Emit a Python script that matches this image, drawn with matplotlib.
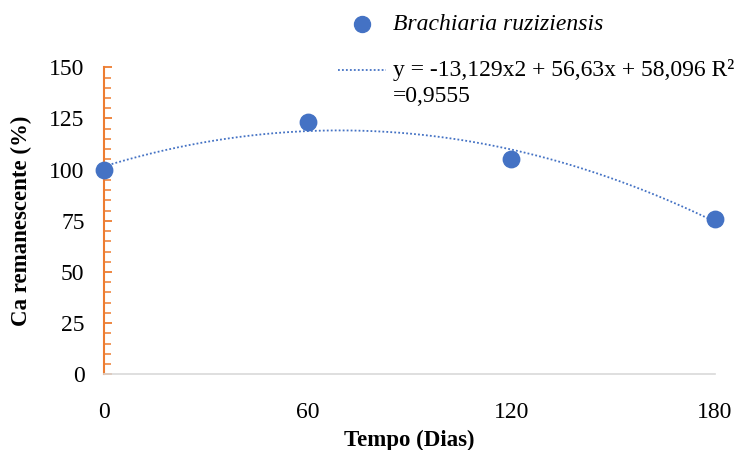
import numpy as np
import matplotlib
matplotlib.use("Agg")
import matplotlib.pyplot as plt
from matplotlib.lines import Line2D

# data
dias = [0, 60, 120, 180]
ca_rem = [100, 123.5, 105, 76]
x_ticks = [0, 60, 120, 180]
y_ticks = [0, 25, 50, 75, 100, 125, 150]
# trendline from the chart (x = period index 1..4)
coef = [-13.129, 56.63, 58.096]
serie_label = "Brachiaria ruziziensis"
trend_label = "y = -13,129x2 + 56,63x + 58,096 R²"
trend_label2 = "=0,9555"

plt.rcParams["font.family"] = ["Liberation Serif", "DejaVu Serif"]
azul = "#4472C4"
laranja = "#ED7D31"

fig = plt.figure(figsize=(7.43, 4.5), dpi=100)
ax = fig.add_axes([104 / 743, 75.7 / 450, (715 - 104) / 743, (374.3 - 67.3) / 450])

# trend curve
xs = np.linspace(0, 180, 200)
idx = xs / 60 + 1
ys = coef[0] * idx**2 + coef[1] * idx + coef[2]
ax.plot(xs, ys, ls=(0, (1, 1.2)), color=azul, lw=1.3, zorder=2)

ax.scatter(dias, ca_rem, s=140, color=azul, zorder=3, clip_on=False)

ax.set_xlim(0, 180)
ax.set_ylim(0, 150)
ax.set_xticks(x_ticks)
ax.set_yticks(y_ticks)
ax.set_yticks(np.arange(0, 151, 5), minor=True)

for s in ["top", "right"]:
    ax.spines[s].set_visible(False)
ax.spines["left"].set_color(laranja)
ax.spines["left"].set_linewidth(1.5)
ax.spines["bottom"].set_color("#D9D9D9")
ax.spines["bottom"].set_linewidth(1.2)

ax.tick_params(axis="y", which="major", direction="in", length=6, width=1.3,
               color=laranja, labelsize=17, pad=14)
ax.tick_params(axis="y", which="minor", direction="in", length=5, width=1.1,
               color=laranja)
ax.tick_params(axis="x", length=0, labelsize=17, pad=20)

ax.set_ylabel("Ca remanescente (%)", fontsize=16.5, fontweight="bold", labelpad=12)
ax.set_xlabel("Tempo (Dias)", fontsize=16.5, fontweight="bold", labelpad=5)

# legend drawn by hand (wrapped text like the original)
fig.add_artist(Line2D([362 / 743], [1 - 24 / 450], marker="o", markersize=11.5,
                      color=azul, ls="none", transform=fig.transFigure))
fig.text(393 / 743, 1 - 24 / 450, serie_label, fontsize=17, style="italic",
         va="center", ha="left")
fig.add_artist(Line2D([338 / 743, 386 / 743], [1 - 70 / 450, 1 - 70 / 450],
                      ls=(0, (1, 1.2)), color=azul, lw=1.3, transform=fig.transFigure))
fig.text(393 / 743, 1 - 70 / 450, trend_label, fontsize=17, va="center", ha="left")
fig.text(393 / 743, 1 - 97 / 450, trend_label2, fontsize=17, va="center", ha="left")

fig.savefig("out.png", dpi=100)
